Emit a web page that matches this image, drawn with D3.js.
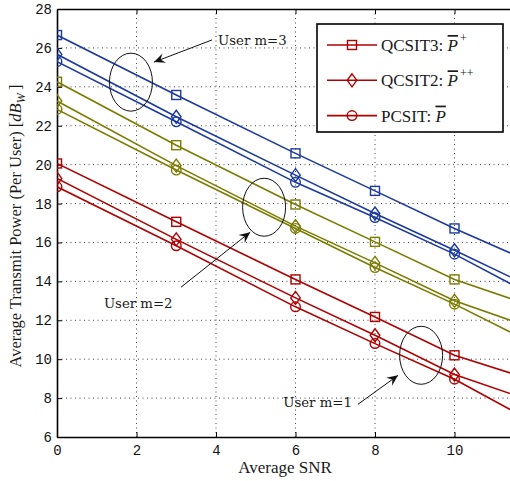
<!DOCTYPE html>
<html>
<head>
<meta charset="utf-8">
<script src="https://cdn.jsdelivr.net/npm/d3@7"></script>
<style>
  body { margin: 0; background: #fff; }
  svg { display: block; }
  .tickText { font-family: "Liberation Mono", monospace; font-size: 14px; fill: #111; }
  .serifText { font-family: "Liberation Serif", serif; fill: #1a1a1a; }
  .userText { font-family: "DejaVu Serif", serif; font-size: 13.3px; fill: #1a1a1a; }
</style>
</head>
<body>
<svg id="chart" width="510" height="481"></svg>
<script>
// average SNR values (last point is where the curves leave the picture)
var snr = [0, 3, 6, 8, 10, 11.4];
var markerCount = 5;

// user m=3
var m3Qcsit3 = [26.66, 23.58, 20.58, 18.65, 16.72, 15.46];
var m3Qcsit2 = [25.67, 22.46, 19.46, 17.49, 15.60, 14.23];
var m3Pcsit  = [25.29, 22.20, 19.09, 17.28, 15.40, 13.89];
// user m=2
var m2Qcsit3 = [24.26, 21.00, 17.95, 16.03, 14.10, 13.12];
var m2Qcsit2 = [23.27, 19.95, 16.84, 14.95, 13.00, 12.00];
var m2Pcsit  = [22.84, 19.72, 16.72, 14.71, 12.83, 11.40];
// user m=1
var m1Qcsit3 = [20.06, 17.06, 14.10, 12.17, 10.20, 9.29];
var m1Qcsit2 = [19.29, 16.16, 13.15, 11.23, 9.21, 8.23];
var m1Pcsit  = [18.86, 15.83, 12.69, 10.80, 8.97, 7.41];

var xTicks = [0, 2, 4, 6, 8, 10];
var yTicks = [6, 8, 10, 12, 14, 16, 18, 20, 22, 24, 26, 28];

var userColors = {3: "#1c3a9e", 2: "#7b7b00", 1: "#b00000"};

var series = [
	{user: 3, marker: "square", values: m3Qcsit3},
	{user: 3, marker: "diamond", values: m3Qcsit2},
	{user: 3, marker: "circle", values: m3Pcsit},
	{user: 2, marker: "square", values: m2Qcsit3},
	{user: 2, marker: "diamond", values: m2Qcsit2},
	{user: 2, marker: "circle", values: m2Pcsit},
	{user: 1, marker: "square", values: m1Qcsit3},
	{user: 1, marker: "diamond", values: m1Qcsit2},
	{user: 1, marker: "circle", values: m1Pcsit}
];

// ellipses, arrows and labels pointing at each user group (data units)
var notes = [
	{label: "User m=3", cx: 1.86, cy: 24.24, tx: 4.05, ty: 26.15, from: [3.90, 26.41], to: [2.44, 25.27]},
	{label: "User m=2", cx: 5.21, cy: 17.81, tx: 1.18, ty: 12.64, from: [3.12, 13.70], to: [4.86, 16.53]},
	{label: "User m=1", cx: 9.16, cy: 10.20, tx: 5.69, ty: 7.54, from: [7.57, 7.68], to: [8.58, 9.17]}
];

var legendItems = [
	{name: "QCSIT3: ", marker: "square", sup: "+"},
	{name: "QCSIT2: ", marker: "diamond", sup: "++"},
	{name: "PCSIT: ", marker: "circle", sup: ""}
];

var svg = d3.select("#chart");

var plotLeft = 57, plotTop = 9, plotBottom = 437, plotRight = 534;

var x = d3.scaleLinear().domain([0, 12]).range([plotLeft, plotRight]);
var y = d3.scaleLinear().domain([6, 28]).range([plotBottom, plotTop]);

svg.append("defs").append("clipPath")
	.attr("id", "plotClip")
	.append("rect")
	.attr("x", plotLeft)
	.attr("y", plotTop)
	.attr("width", plotRight - plotLeft)
	.attr("height", plotBottom - plotTop);

// dotted grid
var grid = svg.append("g").attr("class", "grid");
grid.selectAll("line.vgrid")
	.data(xTicks.filter(function(d) { return d > 0; }))
	.enter()
	.append("line")
	.attr("class", "vgrid")
	.attr("x1", function(d) { return x(d); })
	.attr("x2", function(d) { return x(d); })
	.attr("y1", plotTop)
	.attr("y2", plotBottom);
grid.selectAll("line.hgrid")
	.data(yTicks.filter(function(d) { return d > 6 && d < 28; }))
	.enter()
	.append("line")
	.attr("class", "hgrid")
	.attr("x1", plotLeft)
	.attr("x2", plotRight)
	.attr("y1", function(d) { return y(d); })
	.attr("y2", function(d) { return y(d); });
grid.selectAll("line")
	.attr("stroke", "#444")
	.attr("stroke-width", 1)
	.attr("stroke-dasharray", "1,3.5");

// axes, ticks pointing inwards
var yAxis = svg.append("g")
	.attr("transform", "translate(" + plotLeft + ",0)")
	.call(d3.axisLeft(y).tickValues(yTicks).tickSizeInner(-5).tickSizeOuter(0).tickPadding(5));
var xAxis = svg.append("g")
	.attr("transform", "translate(0," + plotBottom + ")")
	.call(d3.axisBottom(x).tickValues(xTicks).tickSizeInner(-5).tickSizeOuter(0).tickPadding(8));
var topAxis = svg.append("g")
	.attr("transform", "translate(0," + plotTop + ")")
	.call(d3.axisTop(x).tickValues(xTicks).tickSizeInner(-5).tickSizeOuter(0).tickFormat(""));

[yAxis, xAxis, topAxis].forEach(function(g) {
	g.select(".domain").attr("stroke", "#000").attr("stroke-width", 1.6);
	g.selectAll(".tick line").attr("stroke", "#000").attr("stroke-width", 1);
	g.selectAll(".tick text").attr("class", "tickText").attr("font-family", null).attr("font-size", null);
});

// series
var line = d3.line()
	.x(function(d, i) { return x(snr[i]); })
	.y(function(d) { return y(d); });

var plot = svg.append("g").attr("clip-path", "url(#plotClip)");

function drawMarker(g, kind, px, py, color) {
	if (kind === "square") {
		g.append("rect")
			.attr("x", px - 4.5).attr("y", py - 4.5)
			.attr("width", 9).attr("height", 9);
	} else if (kind === "circle") {
		g.append("circle").attr("cx", px).attr("cy", py).attr("r", 4.8);
	} else {
		g.append("path")
			.attr("d", "M" + px + "," + (py - 6.5) + "L" + (px + 4.8) + "," + py +
				"L" + px + "," + (py + 6.5) + "L" + (px - 4.8) + "," + py + "Z");
	}
	g.selectAll("*")
		.attr("fill", "none")
		.attr("stroke", color)
		.attr("stroke-width", 1.4);
}

series.forEach(function(s) {
	var color = userColors[s.user];
	plot.append("path")
		.datum(s.values)
		.attr("d", line)
		.attr("fill", "none")
		.attr("stroke", color)
		.attr("stroke-width", 1.6);
	s.values.slice(0, markerCount).forEach(function(v, i) {
		drawMarker(plot.append("g"), s.marker, x(snr[i]), y(v), color);
	});
});

// annotations
function arrowHead(tipX, tipY, fromX, fromY) {
	var ang = Math.atan2(tipY - fromY, tipX - fromX) * 180 / Math.PI;
	return svg.append("path")
		.attr("d", "M0,0L-11,-5L-7,0L-11,5Z")
		.attr("transform", "translate(" + tipX + "," + tipY + ") rotate(" + ang + ")")
		.attr("fill", "#111");
}

notes.forEach(function(n) {
	svg.append("ellipse")
		.attr("cx", x(n.cx))
		.attr("cy", y(n.cy))
		.attr("rx", 21.5)
		.attr("ry", 29)
		.attr("fill", "none")
		.attr("stroke", "#111")
		.attr("stroke-width", 1);
	svg.append("line")
		.attr("x1", x(n.from[0])).attr("y1", y(n.from[1]))
		.attr("x2", x(n.to[0])).attr("y2", y(n.to[1]))
		.attr("stroke", "#111")
		.attr("stroke-width", 1);
	arrowHead(x(n.to[0]), y(n.to[1]), x(n.from[0]), y(n.from[1]));
	svg.append("text")
		.attr("class", "userText")
		.attr("x", x(n.tx))
		.attr("y", y(n.ty))
		.text(n.label);
});

// axis labels
svg.append("text")
	.attr("class", "serifText")
	.attr("font-size", 17)
	.attr("text-anchor", "middle")
	.attr("x", 285)
	.attr("y", 473)
	.text("Average SNR");

var yLabel = svg.append("text")
	.attr("class", "serifText")
	.attr("font-size", 16.5)
	.attr("text-anchor", "middle")
	.attr("transform", "translate(21,226) rotate(-90)");
yLabel.append("tspan").text("Average Transmit Power (Per User) [");
yLabel.append("tspan").attr("font-style", "italic").text("dB");
yLabel.append("tspan").attr("font-style", "italic").attr("font-size", 12).attr("dy", 4).text("W");
yLabel.append("tspan").attr("dy", -4).text("\u2009]");

// legend
var legend = svg.append("g").attr("id", "legend");
legend.append("rect")
	.attr("x", 317)
	.attr("y", 24)
	.attr("width", 186)
	.attr("height", 108)
	.attr("fill", "#fff")
	.attr("stroke", "#000")
	.attr("stroke-width", 1.6);

legendItems.forEach(function(d, i) {
	var rowY = 45 + i * 35.3;
	var color = userColors[1];
	legend.append("line")
		.attr("x1", 327).attr("x2", 377)
		.attr("y1", rowY).attr("y2", rowY)
		.attr("stroke", color)
		.attr("stroke-width", 1.6);
	drawMarker(legend.append("g"), d.marker, 352, rowY, color);
	var t = legend.append("text")
		.attr("class", "serifText")
		.attr("font-size", 17)
		.attr("x", 381)
		.attr("y", rowY + 6);
	t.append("tspan").text(d.name);
	t.append("tspan")
		.attr("font-style", "italic")
		.attr("text-decoration", "overline")
		.text("P");
	if (d.sup) {
		t.append("tspan")
			.attr("font-size", 12)
			.attr("dy", -9)
			.attr("dx", 2)
			.text(d.sup);
	}
});
</script>
</body>
</html>
